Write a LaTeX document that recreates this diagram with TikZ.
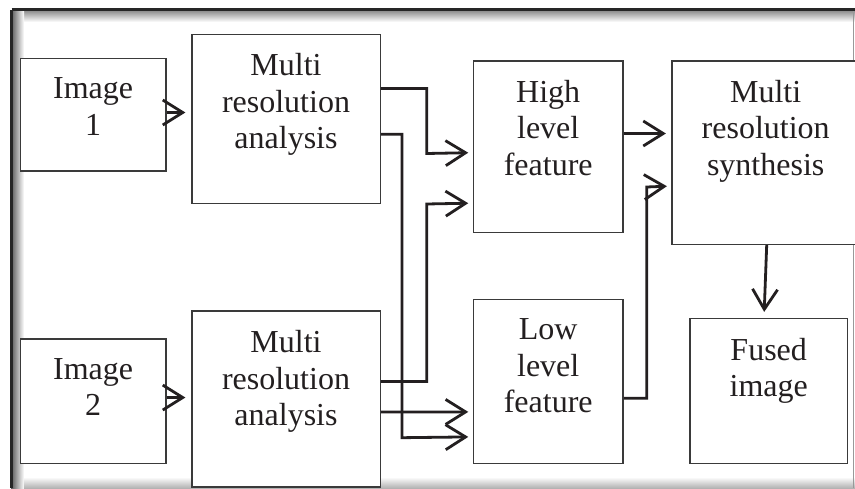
\documentclass[tikz,border=0pt]{standalone}
\usepackage{fontspec}
\setmainfont{Liberation Serif}
\usetikzlibrary{arrows.meta,calc}

\definecolor{ink}{HTML}{231F20}
\definecolor{edge}{HTML}{3A3A3A}

\tikzset{
  blk/.style={draw=edge, line width=1.6pt, inner sep=0pt, fill=white},
  lbl/.style={anchor=north, inner sep=0pt, align=center, text=ink,
              font=\fontsize{32}{36.5}\selectfont},
  conn/.style={draw=ink, line width=2.8pt, line join=miter,
               -{Straight Barb[length=20pt,width=25pt,line width=2.8pt]}},
}

\begin{document}
\begin{tikzpicture}[x=1pt,y=-1pt]
\useasboundingbox (0,0) rectangle (855,488);
\fill[white] (0,0) rectangle (855,488);

% frame with its soft inner shadow
\shade[top color=black!45, bottom color=white] (11,10.5) rectangle (855,22);
\shade[left color=black!65, right color=white] (11,10.5) rectangle (24,488);
\shade[top color=white, bottom color=black!30] (24,477) rectangle (855,488);
\draw[black!40, line width=1pt] (853.5,10) -- (853.5,488);
\draw[black!85, line width=2.2pt] (11.5,9.5) -- (855,9.5);
\draw[black!85, line width=2.2pt] (11.5,9.5) -- (11.5,488);

% blocks
\node[blk, minimum width=145.2pt, minimum height=112.4pt] (img1)  at (93.1,114.5)  {};
\node[blk, minimum width=188.6pt, minimum height=169pt]   (mra1)  at (286,118.8)   {};
\node[blk, minimum width=145.2pt, minimum height=124.3pt] (img2)  at (93.1,401.2)  {};
\node[blk, minimum width=188.6pt, minimum height=175.7pt] (mra2)  at (286,398.9)   {};
\node[blk, minimum width=149.7pt, minimum height=171.6pt] (high)  at (548.2,146.5) {};
\node[blk, minimum width=149.7pt, minimum height=164pt]   (low)   at (548.2,381.3) {};
\node[blk, minimum width=188pt,   minimum height=183.6pt] (mrs)   at (765.7,152.5) {};
\node[blk, minimum width=157.3pt, minimum height=145pt]   (fused) at (768.7,390.8) {};

% block texts
\node[lbl] (t1) at ($(img1.north)+(0,20)$)  {Image\\1};
\node[lbl] (t2) at ($(mra1.north)+(0,20)$)  {Multi\\resolution\\analysis};
\node[lbl] (t3) at ($(img2.north)+(0,20)$)  {Image\\2};
\node[lbl] (t4) at ($(mra2.north)+(0,20)$)  {Multi\\resolution\\analysis};
\node[lbl] (t5) at ($(high.north)+(0,20)$)  {High\\level\\feature};
\node[lbl] (t6) at ($(low.north)+(0,20)$)   {Low\\level\\feature};
\node[lbl] (t7) at ($(mrs.north)+(0,20)$)   {Multi\\resolution\\synthesis};
\node[lbl] (t8) at ($(fused.north)+(0,20.5)$) {Fused\\image};

% connectors
\draw[conn] ($(img1.north east)+(0,55)$) -- ($(mra1.north west)+(-5.5,79)$);
\draw[conn] ($(img2.north east)+(0,59.3)$) -- ($(mra2.north west)+(-5.5,87.3)$);

\draw[conn] ($(mra1.north east)+(0,55)$) -| (426.7,153.5)
            -- ($(high.north west)+(-4.3,92.8)$);
\draw[conn] ($(mra1.north east)+(0,100.7)$) -| (402,437.7)
            -- ($(low.north west)+(-4.3,138.4)$);
\draw[conn] ($(mra2.north east)+(0,71.3)$) -| (426.7,204)
            -- ($(high.north west)+(-4.3,143.3)$);
\draw[conn] ($(mra2.north east)+(0,101.7)$)
            -- ($(low.north west)+(-4.3,113.4)$);

\draw[conn] ($(high.north east)+(0,73.6)$) -- ($(mrs.north west)+(-5,73.6)$);
\draw[conn] ($(low.north east)+(0,99.7)$) -| (646.7,187)
            -- ($(mrs.north west)+(-4,126.3)$);

\draw[conn] ($(mrs.south)+(1,0)$) -- ($(fused.north)+(-4.5,-5.6)$);
\end{tikzpicture}
\end{document}
